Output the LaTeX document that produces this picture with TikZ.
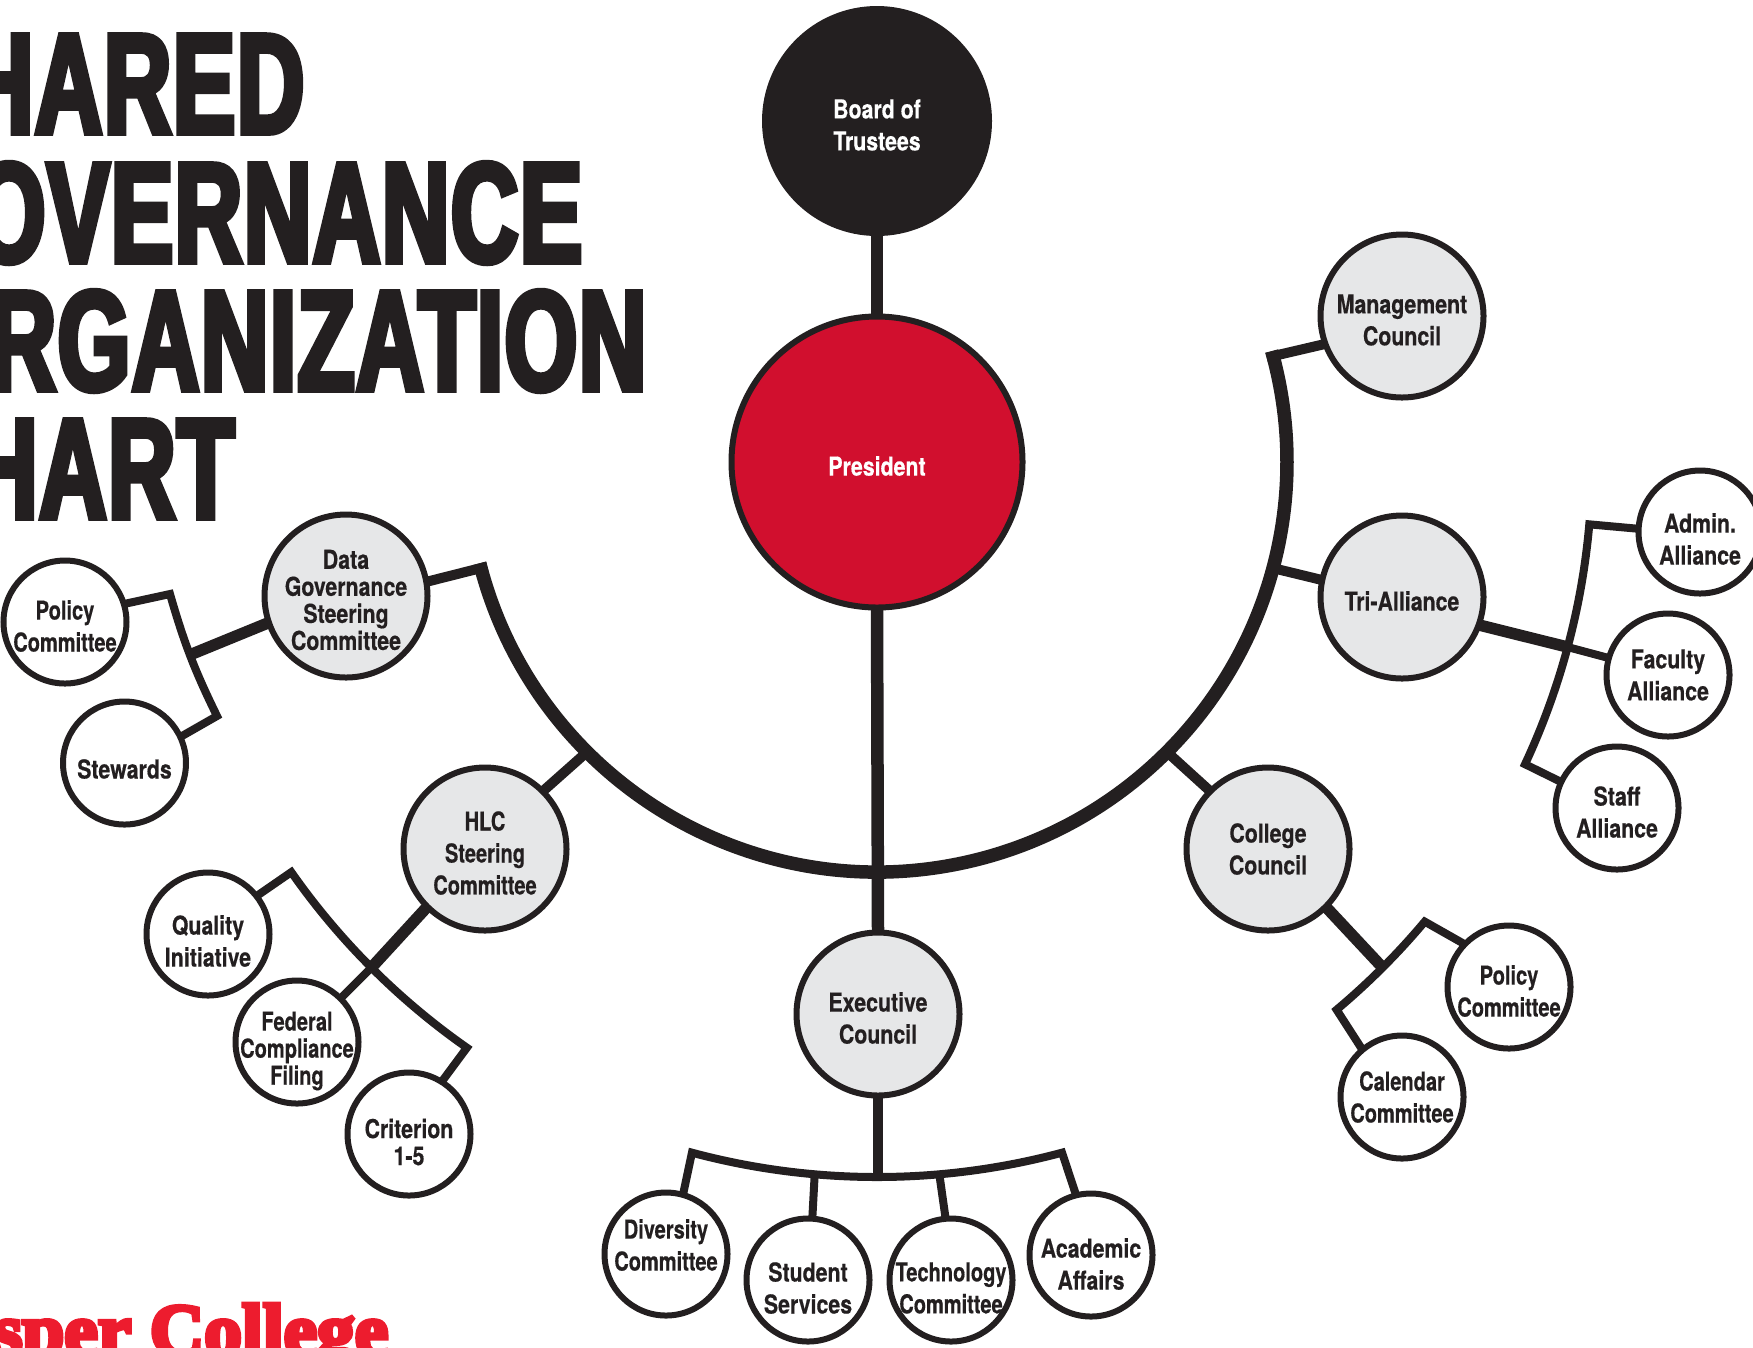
\documentclass[tikz,border=0pt]{standalone}
\usepackage{fontspec}
\newfontfamily\labelfont[FakeStretch=.82,BoldFeatures={FakeBold=.4}]{TeX Gyre Heros}
\newfontfamily\narrowfont[FakeStretch=.77,BoldFeatures={FakeBold=.4}]{TeX Gyre Heros}
\newfontfamily\titlefont[FakeStretch=.655,LetterSpace=1.2,BoldFeatures={FakeBold=4}]{Liberation Sans}
\newfontfamily\logofont[FakeStretch=1.02,BoldFeatures={FakeBold=6}]{Liberation Serif}
\definecolor{ink}{HTML}{231F20}
\definecolor{paleg}{HTML}{E6E7E8}
\definecolor{presred}{HTML}{D10F2E}
\definecolor{logored}{HTML}{ED1C2E}
\tikzset{
  every label/.style={align=center,inner sep=0pt,text=ink,yshift=-.04cm,font=\labelfont\bfseries\fontsize{7.4}{9.1}\selectfont},
  tightlabel/.style={font=\labelfont\bfseries\fontsize{7.4}{7.7}\selectfont},
  narrowlabel/.style={font=\narrowfont\bfseries\fontsize{7.4}{9.1}\selectfont},
  tightnarrow/.style={font=\narrowfont\bfseries\fontsize{7.4}{7.7}\selectfont},
  whitelabel/.style={text=white},
  topnode/.style={circle,fill=ink,inner sep=0pt,outer sep=0pt,minimum size=2.3cm},
  presnode/.style={circle,draw=ink,line width=.06cm,fill=presred,inner sep=0pt,outer sep=0pt,minimum size=2.91cm},
  bignode/.style={circle,draw=ink,line width=.06cm,fill=paleg,inner sep=0pt,outer sep=0pt,minimum size=1.63cm},
  smallnode/.style={circle,draw=ink,line width=.06cm,fill=white,inner sep=0pt,outer sep=0pt,minimum size=1.23cm},
  titleline/.style={anchor=base east,inner sep=0pt,text=ink,font=\titlefont\bfseries\fontsize{40.5}{40.5}\selectfont},
  stem/.style={draw=ink,line width=.125cm},
  mainarc/.style={draw=ink,line width=.135cm},
  stub/.style={draw=ink,line width=.1cm},
  bracket/.style={draw=ink,line width=.08cm},
  fatstub/.style={draw=ink,line width=.115cm}
}
\begin{document}
\begin{tikzpicture}
\pgfmathsetmacro{\arcrad}{4.1};
\pgfmathsetmacro{\subrad}{7.15};
\useasboundingbox (0,0) rectangle (17.53,-13.47);

% title
\node[titleline] (tline1) at (3.05,-1.33) {HARED};
\node[titleline] (tline2) at (5.83,-2.62) {OVERNANCE};
\node[titleline] (tline3) at (6.47,-3.90) {RGANIZATION};
\node[titleline] (tline4) at (2.35,-5.18) {HART};
\node[anchor=base east,inner sep=0pt,text=logored,font=\logofont\bfseries\fontsize{21}{21}\selectfont] (logo) at (3.89,-13.55) {sper College};

% main circles
\node[topnode,label={[whitelabel]center:Board of\\Trustees}] (board) at (8.77,-1.21) {};
\node[presnode,label={[whitelabel]center:President}] (president) at (8.77,-4.62) {};
\node[bignode,label=center:{Management\\Council}] (mgmt) at (14.02,-3.16) {};
\node[bignode,label=center:{Tri-Alliance}] (tri) at (14.02,-5.97) {};
\node[bignode,label={[yshift=.04cm]center:College\\Council}] (college) at (12.68,-8.49) {};
\node[bignode,label=center:{Executive\\Council}] (exec) at (8.78,-10.14) {};
\node[bignode,label={[narrowlabel]center:HLC\\Steering\\Committee}] (hlc) at (4.85,-8.49) {};
\node[bignode,label={[tightlabel]center:Data\\Governance\\Steering\\Committee}] (data) at (3.46,-5.96) {};

% small circles
\node[smallnode,label={[yshift=-.03cm]center:Admin.\\Alliance}] (admin) at (17.00,-5.32) {};
\node[smallnode,label={[yshift=.04cm]center:Faculty\\Alliance}] (faculty) at (16.68,-6.75) {};
\node[smallnode,label=center:{Staff\\Alliance}] (staff) at (16.17,-8.08) {};
\node[smallnode,label={[narrowlabel]center:Policy\\Committee}] (policyc) at (15.09,-9.87) {};
\node[smallnode,label={[narrowlabel,yshift=.04cm]center:Calendar\\Committee}] (calendar) at (14.02,-10.97) {};
\node[smallnode,label={[narrowlabel,yshift=.13cm]center:Diversity\\Committee}] (diversity) at (6.66,-12.54) {};
\node[smallnode,label={[yshift=-.04cm]center:Student\\Services}] (student) at (8.08,-12.80) {};
\node[smallnode,label={[narrowlabel,yshift=-.04cm]center:Technology\\Committee}] (techno) at (9.51,-12.80) {};
\node[smallnode,label={[yshift=-.05cm]center:Academic\\Affairs}] (academic) at (10.91,-12.55) {};
\node[smallnode,label={[yshift=-.03cm]center:Quality\\Initiative}] (quality) at (2.08,-9.34) {};
\node[smallnode,label={[tightnarrow,yshift=-.05cm]center:Federal\\Compliance\\Filing}] (federal) at (2.97,-10.42) {};
\node[smallnode,label={[tightlabel,yshift=-.04cm]center:Criterion\\1-5}] (criterion) at (4.09,-11.34) {};
\node[smallnode,label={[narrowlabel]center:Policy\\Committee}] (policyd) at (0.65,-6.22) {};
\node[smallnode,label={[yshift=-.02cm]center:Stewards}] (stewards) at (1.245,-7.63) {};

% big arc and what hangs on it
\coordinate (arcstart) at ([shift=(194.3:\arcrad)]president.center);
\coordinate (joindata) at ([shift=(195:4.035)]president.center);
\coordinate (joinmgmt) at ([shift=(15:4.035)]president.center);
\coordinate (jointri) at ([shift=(-15:\arcrad)]president.center);
\coordinate (joincollege) at ([shift=(-45:\arcrad)]president.center);
\coordinate (joinhlc) at ([shift=(225:\arcrad)]president.center);

\draw[stem] (board.south) -- (president.north);
\draw[stem] (president.south) -- (exec.north);
\draw[stub] (data.10) -- (joindata);
\draw[stub] (mgmt.200) -- (joinmgmt);
\draw[stub] (tri.168) -- (jointri);
\draw[stub] (college.135) -- (joincollege);
\draw[stub] (hlc.45) -- (joinhlc);
\draw[mainarc] (arcstart) arc [radius=\arcrad, start angle=194.3, end angle=375.7];

% executive council branch
\coordinate (exA) at ([shift=(255:\subrad)]president.center);
\coordinate (exB) at ([shift=(265:\subrad)]president.center);
\coordinate (exC) at ([shift=(275:\subrad)]president.center);
\draw[stem,line width=.1cm] (exec.south) -- (exec.south |- exB);
\draw[bracket] (diversity.74) -- (exA) arc [radius=\subrad, start angle=255, end angle=285] -- (academic.104);
\draw[bracket] (student.86) -- (exB);
\draw[bracket] (techno.95) -- (exC);

% tri-alliance branch
\coordinate (triA) at ([shift=(-5:\subrad)]president.center);
\coordinate (triB) at ([shift=(-15:\subrad)]president.center);
\draw[bracket] (admin.177) -- (triA) arc [radius=\subrad, start angle=-5, end angle=-25] -- (staff.155);
\draw[fatstub] (tri.340) -- (triB);
\draw[bracket] (triB) -- (faculty.164);

% college council branch
\coordinate (colA) at ([shift=(-40:\subrad)]president.center);
\coordinate (colB) at ([shift=(-45:\subrad)]president.center);
\draw[bracket] (policyc.136) -- (colA) arc [radius=\subrad, start angle=-40, end angle=-50] -- (calendar.130);
\draw[fatstub] (college.-45) -- (colB);

% hlc branch
\coordinate (hlcA) at ([shift=(215:\subrad)]president.center);
\coordinate (hlcB) at ([shift=(225:\subrad)]president.center);
\draw[bracket] (quality.38) -- (hlcA) arc [radius=\subrad, start angle=215, end angle=235] -- (criterion.58);
\draw[fatstub] (hlc.-135) -- (hlcB);
\draw[bracket] (hlcB) -- (federal.45);

% data governance branch
\coordinate (dataA) at (1.70,-5.94);
\coordinate (dataB) at (1.92,-6.54);
\coordinate (dataC) at (2.17,-7.16);
\draw[bracket] (policyd.17) -- (dataA) to[bend right=5] (dataC) -- (stewards.25);
\draw[fatstub] (data.199) -- (dataB);
\end{tikzpicture}
\end{document}
